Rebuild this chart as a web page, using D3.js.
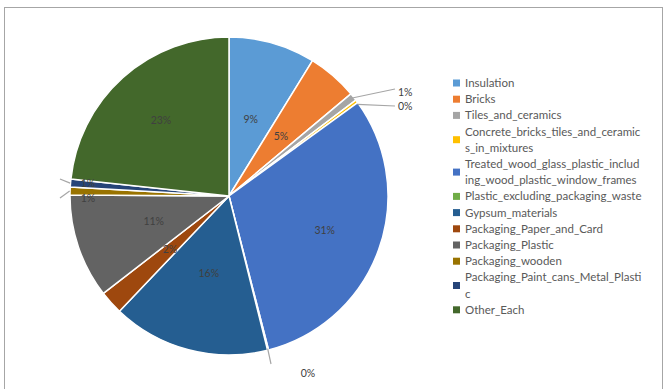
<!DOCTYPE html>
<html><head><meta charset="utf-8">
<script src="https://cdn.jsdelivr.net/npm/d3@7"></script>
<style>html,body{margin:0;padding:0;background:#fff;}svg{display:block;}</style>
</head><body>
<svg id="c" width="666" height="389"></svg>
<script>
const categories = ["Insulation","Bricks","Tiles_and_ceramics","Concrete_bricks_tiles_and_ceramics_in_mixtures","Treated_wood_glass_plastic_including_wood_plastic_window_frames","Plastic_excluding_packaging_waste","Gypsum_materials","Packaging_Paper_and_Card","Packaging_Plastic","Packaging_wooden","Packaging_Paint_cans_Metal_Plastic","Other_Each"];
const values = [8.8, 5.1, 0.8, 0.3, 31.0, 0.1, 16.0, 2.4, 10.6, 0.8, 0.8, 23.3];
const colors = ["#5B9BD5","#ED7D31","#A5A5A5","#FFC000","#4472C4","#70AD47","#255E91","#9E480E","#636363","#997300","#264478","#43682B"];

const svg = d3.select("#c");
const font = "Lato, 'Open Sans', sans-serif";
svg.append("rect").attr("x",4.5).attr("y",7.5).attr("width",658).attr("height",400)
  .attr("fill","#fff").attr("stroke","#a6a6a6").attr("stroke-width",1);

const cx = 229, cy = 196, R = 159;
const total = d3.sum(values);
const data = categories.map((c,i)=>({name:c, value:values[i], color:colors[i], i}));
const pie = d3.pie().value(d=>d.value).sort(null);
const arcs = pie(data);
const arc = d3.arc().innerRadius(0).outerRadius(R);
const g = svg.append("g").attr("transform",`translate(${cx},${cy})`);
g.selectAll("path").data(arcs).join("path")
  .attr("d",arc).attr("fill",d=>d.data.color)
  .attr("stroke","#fff").attr("stroke-width",1.5).attr("stroke-linejoin","round");

const pct = v => Math.round(v/total*100) + "%";
const labelColor = "#404040";
// inside labels
arcs.forEach(a=>{
  const v = a.data.value/total*100;
  const mid = (a.startAngle+a.endAngle)/2;
  let x, y, anchor = "middle";
  if (v >= 2) {
    const r = v > 20 ? R*0.64 : R*0.5;
    x = Math.sin(mid)*r; y = -Math.cos(mid)*r;
  } else {
    return;
  }
  g.append("text").attr("x",x).attr("y",y).attr("dy","0.35em")
    .attr("text-anchor",anchor).attr("font-family",font).attr("font-size",10.5)
    .attr("fill",labelColor).text(pct(a.data.value));
});
// small slice labels with leader lines
function leader(idx, ex, ey, lx, ly, tx, ty, anchor){
  const a = arcs[idx];
  const mid = (a.startAngle+a.endAngle)/2;
  const sx = Math.sin(mid)*R*0.99, sy = -Math.cos(mid)*R*0.99;
  g.append("path").attr("d",`M${sx+ex},${sy+ey}L${lx-cx},${ly-cy}`)
    .attr("stroke","#a6a6a6").attr("stroke-width",1.2).attr("fill","none");
  g.append("text").attr("x",tx-cx).attr("y",ty-cy).attr("dy","0.35em")
    .attr("text-anchor",anchor).attr("font-family",font).attr("font-size",10.5)
    .attr("fill",labelColor).text(pct(a.data.value));
}
leader(2, 0, 0, 395, 89, 398, 92, "start");
leader(3, 2, 2, 395, 106, 398, 106, "start");
leader(5, 0, 0, 271, 364, 308, 373, "middle");
leader(9, -2, 0, 60, 198, 88, 198, "middle");
leader(10, -2, 0, 60, 179, 88, 183, "middle");

// legend
const lg = svg.append("g");
const step = 16.2, top0 = 83;
let line = 0;
data.forEach(d=>{
  const chunks = d.name.match(/.{1,33}/g);
  const yc = top0 + (line + (chunks.length-1)/2)*step;
  lg.append("rect").attr("x",453).attr("y",yc-3.5).attr("width",7).attr("height",7).attr("fill",d.color);
  chunks.forEach((c,k)=>{
    lg.append("text").attr("x",465).attr("y",top0+(line+k)*step).attr("dy","0.35em")
      .attr("font-family",font).attr("font-size",11.5).attr("fill","#595959").text(c);
  });
  line += chunks.length;
});
</script>
</body></html>
